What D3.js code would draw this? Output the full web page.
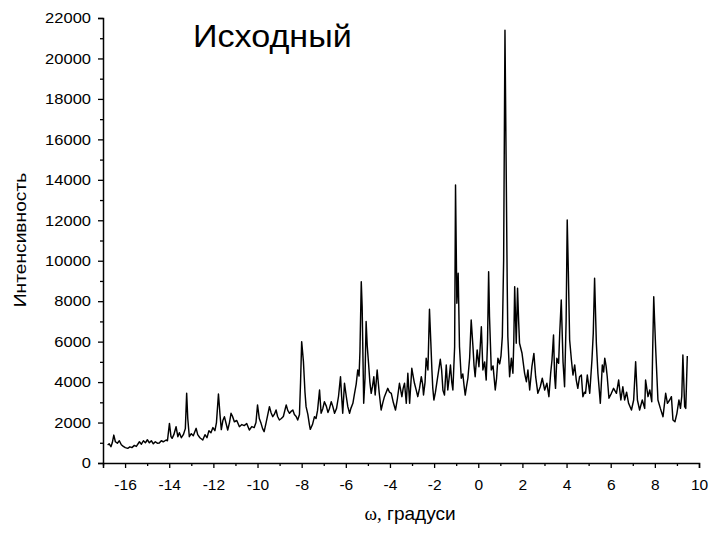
<!DOCTYPE html>
<html>
<head>
<meta charset="utf-8">
<script src="https://cdn.jsdelivr.net/npm/d3@7"></script>
<style>
  html, body { margin: 0; padding: 0; background: #fff; }
  svg { display: block; }
  text { font-family: Arial, "Liberation Sans", sans-serif; fill: #000; }
</style>
</head>
<body>
<svg id="chart" width="709" height="545"></svg>
<script>
// Rocking-curve scan: angle (degrees) and measured intensity
const omega = [
  -16.79,-16.72,-16.64,-16.58,-16.51,-16.44,-16.35,-16.26,-16.17,-16.08,
  -15.99,-15.88,-15.78,-15.69,-15.58,-15.49,-15.35,-15.26,-15.17,-15.08,
  -14.99,-14.90,-14.81,-14.72,-14.63,-14.54,-14.45,-14.36,-14.27,-14.14,
  -14.08,-13.99,-13.92,-13.87,-13.79,-13.69,-13.61,-13.54,-13.45,-13.36,
  -13.27,-13.21,-13.16,-13.09,-13.00,-12.91,-12.78,-12.71,-12.61,-12.48,
  -12.38,-12.29,-12.20,-12.11,-12.02,-11.93,-11.86,-11.77,-11.70,-11.64,
  -11.57,-11.50,-11.35,-11.27,-11.20,-11.13,-11.05,-10.94,-10.82,-10.71,
  -10.60,-10.49,-10.37,-10.26,-10.15,-10.07,-10.00,-9.92,-9.84,-9.77,
  -9.70,-9.61,-9.46,-9.39,-9.31,-9.24,-9.16,-9.09,-9.01,-8.92,
  -8.83,-8.70,-8.63,-8.55,-8.48,-8.40,-8.33,-8.25,-8.18,-8.10,
  -8.05,-8.00,-7.92,-7.85,-7.80,-7.72,-7.65,-7.61,-7.51,-7.42,
  -7.35,-7.28,-7.19,-7.12,-7.04,-6.97,-6.88,-6.81,-6.74,-6.66,
  -6.59,-6.51,-6.42,-6.33,-6.24,-6.19,-6.14,-6.06,-5.98,-5.91,
  -5.83,-5.77,-5.68,-5.61,-5.53,-5.46,-5.40,-5.36,-5.30,-5.26,
  -5.22,-5.19,-5.13,-5.08,-5.03,-4.97,-4.91,-4.85,-4.79,-4.73,
  -4.67,-4.58,-4.49,-4.40,-4.32,-4.25,-4.17,-4.10,-4.02,-3.94,
  -3.85,-3.75,-3.66,-3.57,-3.46,-3.40,-3.34,-3.26,-3.19,-3.11,
  -3.01,-2.95,-2.89,-2.81,-2.74,-2.66,-2.58,-2.52,-2.48,-2.41,
  -2.36,-2.28,-2.21,-2.15,-2.10,-2.06,-2.01,-1.94,-1.86,-1.79,
  -1.72,-1.66,-1.60,-1.53,-1.45,-1.38,-1.31,-1.26,-1.20,-1.15,
  -1.07,-1.03,-0.97,-0.91,-0.85,-0.77,-0.70,-0.64,-0.59,-0.53,
  -0.47,-0.39,-0.32,-0.24,-0.19,-0.14,-0.05,0.03,0.08,0.14,
  0.21,0.29,0.36,0.42,0.47,0.51,0.59,0.67,0.77,0.83,
  0.89,0.97,1.03,1.09,1.15,1.21,1.27,1.31,1.34,1.42,
  1.50,1.57,1.61,1.65,1.72,1.78,1.83,1.87,1.98,2.10,
  2.18,2.25,2.33,2.43,2.52,2.60,2.70,2.81,2.90,3.01,
  3.11,3.20,3.28,3.34,3.41,3.46,3.50,3.56,3.64,3.69,
  3.76,3.84,3.91,3.98,4.03,4.08,4.14,4.22,4.29,
  4.37,4.44,4.51,4.59,4.67,4.74,4.81,4.86,4.94,5.05,
  5.15,5.21,5.27,5.35,5.42,5.53,5.62,5.68,5.73,5.79,
  5.84,5.92,6.03,6.13,6.26,6.36,6.46,6.55,6.63,6.72,
  6.81,6.94,7.04,7.13,7.21,7.31,7.43,7.54,7.58,7.69,
  7.77,7.86,7.90,7.95,7.99,8.04,8.14,8.25,8.37,8.49,
  8.57,8.67,8.75,8.82,8.91,9.00,9.09,9.16,9.22,9.27,
  9.35,9.40,9.47
];
const intensity = [
  890,950,806,1000,1380,1050,980,1100,900,820,
  760,725,800,760,870,820,1050,930,1100,1000,
  1150,1000,1100,950,1050,980,990,1100,1050,1137,
  1100,1960,1300,1220,1400,1795,1300,1500,1250,1400,
  1700,3445,2200,1300,1450,1350,1715,1400,1250,1137,
  1400,1250,1600,1500,1750,1600,2000,3411,2400,1650,
  2100,2290,1630,2000,2457,2300,2040,2100,1795,1900,
  1850,1950,1630,1800,1750,2000,2870,2200,1960,1700,
  1550,2000,2785,2500,2290,2400,2620,2300,2126,2200,
  2300,2870,2600,2457,2550,2620,2400,2300,2126,2400,
  4000,6000,5010,3500,2785,2400,1900,1665,1900,2290,
  2200,2600,3610,2457,2700,3030,2800,2500,2700,3030,
  2800,2457,2700,3300,4267,3300,2457,3940,3300,2785,
  2457,2700,2950,3400,3900,4600,4300,5500,8960,7730,
  5000,2950,4200,7000,5800,4930,4000,3445,3800,4267,
  3360,4600,3500,2620,3000,3280,3500,3690,3500,3445,
  3000,2620,3200,3940,3280,3700,3940,2950,4435,2950,
  4680,4300,3940,3600,3280,3700,4267,3900,3360,4000,
  5180,4600,7600,6000,4600,3700,3115,3500,4100,4600,
  5130,4600,3600,3360,4845,3610,4300,4845,4000,3610,
  5750,13745,7900,9380,5750,4190,4400,3800,3360,3800,
  4190,5200,7070,5750,4800,4267,5590,4760,5600,6740,
  4600,5000,4100,6000,9460,7230,4600,4800,3610,4200,
  5180,4900,5300,6250,10040,21400,14000,9000,6250,4267,
  5180,4435,6000,8720,5920,8640,7000,5920,5440,4435,
  4020,4600,3610,4760,5420,4267,3445,3770,4190,3610,
  3940,3280,4435,5090,6330,4267,3690,5180,4930,6410,
  8060,5000,3770,7000,12010,9500,6080,5090,4350,
  4845,4100,3690,4267,4350,3280,3500,3445,4350,3445,
  5090,6410,9130,5920,4435,2950,4845,4500,5180,4800,
  4300,3200,3445,3690,3445,4100,3115,3770,3115,3500,
  2950,2620,3115,5010,3115,2620,3115,2700,4100,3280,
  3610,3030,5500,8220,7000,5590,3115,2700,2290,3445,
  2950,3115,3280,2126,2040,2457,3115,2700,3300,5340,
  2785,2700,5290
];

// Axis ticks
const xMajorTicks = [-16, -14, -12, -10, -8, -6, -4, -2, 0, 2, 4, 6, 8, 10];
const xMinorTicks = [-17, -15, -13, -11, -9, -7, -5, -3, -1, 1, 3, 5, 7, 9];
const yMajorTicks = [0, 2000, 4000, 6000, 8000, 10000, 12000, 14000, 16000, 18000, 20000, 22000];
const yMinorTicks = [1000, 3000, 5000, 7000, 9000, 11000, 13000, 15000, 17000, 19000, 21000];

const titleText = "Исходный";
const yLabelText = "Интенсивность";
const xLabelSymbol = "ω,";
const xLabelText = " градуси";

const svg = d3.select("#chart");

const x = d3.scaleLinear().domain([-17, 10]).range([103, 699]);
const y = d3.scaleLinear().domain([0, 22000]).range([463, 18]);

// Slightly widened glyphs, as in the Origin-style export
function widen(sel, factor) {
  sel.each(function () {
    const w = this.getComputedTextLength();
    d3.select(this).attr("textLength", w * factor).attr("lengthAdjust", "spacingAndGlyphs");
  });
}

// X axis (major + minor ticks)
const gx = svg.append("g").attr("transform", `translate(0,${y(0)})`);
gx.call(d3.axisBottom(x).tickValues(xMajorTicks).tickSize(5).tickPadding(11)
  .tickFormat(d => d3.format("d")(d).replace("−", "-")));
svg.append("g").attr("transform", `translate(0,${y(0)})`)
  .call(d3.axisBottom(x).tickValues(xMinorTicks).tickSize(3).tickFormat(""))
  .call(g => g.select(".domain").remove());

// Y axis (major + minor ticks)
const gy = svg.append("g").attr("transform", `translate(${x(-17)},0)`);
gy.call(d3.axisLeft(y).tickValues(yMajorTicks).tickSize(5).tickPadding(7)
  .tickFormat(d3.format("d")));
svg.append("g").attr("transform", `translate(${x(-17)},0)`)
  .call(d3.axisLeft(y).tickValues(yMinorTicks).tickSize(3).tickFormat(""))
  .call(g => g.select(".domain").remove());

svg.selectAll(".domain").attr("stroke", "#000").attr("stroke-width", 1.5);
svg.selectAll(".tick line").attr("stroke", "#000").attr("stroke-width", 1.3);
gx.selectAll(".tick text").attr("font-size", 15.5).attr("font-family", "Arial, 'Liberation Sans', sans-serif");
gy.selectAll(".tick text").attr("font-size", 15).attr("font-family", "Arial, 'Liberation Sans', sans-serif")
  .call(widen, 1.1);

// Intensity trace
const pts = omega.map((w, i) => [w, intensity[i]]);
svg.append("path")
  .datum(pts)
  .attr("fill", "none")
  .attr("stroke", "#000")
  .attr("stroke-width", 1.45)
  .attr("stroke-linejoin", "round")
  .attr("d", d3.line().x(d => x(d[0])).y(d => y(d[1])));

// Title inside plot
svg.append("text")
  .attr("x", 193).attr("y", 47)
  .attr("font-size", 31)
  .text(titleText)
  .call(widen, 1.1);

// Y axis label
svg.append("text")
  .attr("transform", `translate(26,240) rotate(-90)`)
  .attr("text-anchor", "middle")
  .attr("font-size", 17)
  .text(yLabelText)
  .call(widen, 1.13);

// X axis label
const xl = svg.append("text")
  .attr("x", 410).attr("y", 520)
  .attr("text-anchor", "middle")
  .attr("font-size", 19);
xl.append("tspan").attr("font-family", "'Times New Roman', 'Liberation Serif', serif").text(xLabelSymbol);
xl.append("tspan").text(xLabelText);
</script>
</body>
</html>
